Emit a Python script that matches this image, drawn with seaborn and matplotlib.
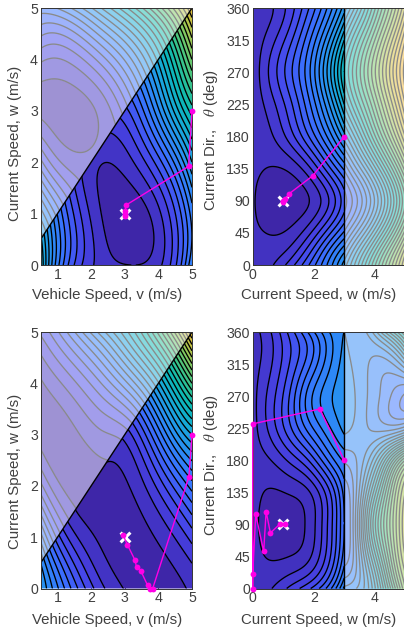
import numpy as np
import matplotlib
matplotlib.use("Agg")
import matplotlib.pyplot as plt
from matplotlib.colors import LinearSegmentedColormap
from matplotlib.patches import Polygon
import seaborn as sns

# grid knots for the surfaces, values are in contour-line counts
v_knots = [0.5, 1.4, 2.3, 3.2, 4.1, 5.0]
w_knots = [0, 1, 2, 3, 4, 5]
w_left_knots = [0, 0.6, 1.2, 1.8, 2.4, 3.0]
w_right_knots = [3.0, 3.4, 3.8, 4.2, 4.6, 5.0]
theta_knots = [0, 45, 90, 135, 180, 225, 270, 315, 360]

# rows go from w=0 up to w=5
top_vw_below = [[13, 4.5, 1.6, 1.0, 2.0, 8],
                [11, 4.4, 1.0, 0.3, 2.1, 7.5],
                [8, 3, 1.05, 1.85, 5, 11],
                [6, 4, 3, 4.3, 9.5, 15.5],
                [6, 5, 6, 8, 13, 20],
                [7, 8, 10, 14, 19, 25]]
top_vw_above = [[13, 4.5, 1.6, 1.0, 2.0, 8],
                [9.5, 4.4, 1.0, 0.3, 2.1, 7.5],
                [4.3, 1.5, 1.3, 1.85, 5, 11],
                [0.75, 0.45, 1.3, 4.3, 9.5, 15.5],
                [2.2, 2.3, 4.5, 8, 13, 20],
                [6.5, 8, 11, 14.5, 19, 25]]
bot_vw_below = [[11, 6, 2.3, 0.75, 0.5, 1.2],
                [8, 2.6, 0.8, 0.5, 1.3, 3.4],
                [4, 1.0, 0.7, 1.1, 3.7, 7.5],
                [3, 3, 1.8, 3, 8, 13],
                [3, 3, 4.5, 8, 13.5, 20],
                [4, 6, 10, 14, 20, 28]]
bot_vw_above = [[13, 6, 2.3, 0.75, 0.5, 1.2],
                [8.5, 2.8, 0.8, 0.5, 1.3, 3.4],
                [3.3, 0.55, 0.5, 1.1, 3.7, 7.5],
                [0.55, 0.65, 1.8, 3, 8, 13],
                [0.85, 2.6, 5, 8.5, 13.5, 20],
                [3.2, 6.5, 10.5, 14.5, 20, 28]]

# rows go from theta=0 up to theta=360
top_wt_near = [[1.2, 1.85, 3.4, 5.8, 8.8, 12.5],
               [1.15, 0.95, 1.2, 2.6, 5.2, 8.2],
               [1.1, 0.55, 0.45, 0.9, 2.6, 5.6],
               [1.15, 0.95, 1.2, 2.6, 5.2, 8.2],
               [1.2, 1.85, 3.4, 5.8, 8.8, 12.5],
               [1.25, 2.6, 4.6, 7.5, 11.2, 16],
               [1.3, 3.3, 5.6, 8.5, 12.7, 18],
               [1.25, 2.6, 4.6, 7.5, 11.2, 16],
               [1.2, 1.85, 3.4, 5.8, 8.8, 12.5]]
top_wt_far = [[12.5, 15.5, 19, 22.6, 26.2, 30],
              [8.2, 11, 14, 17.5, 21.3, 25.5],
              [5.6, 7.8, 10.5, 13.8, 17.7, 22],
              [8.2, 11, 14, 17.5, 21.3, 25.5],
              [12.5, 15.5, 19, 22.6, 26.2, 30],
              [16, 19.2, 22.3, 25.7, 29.2, 33],
              [18, 21, 24.2, 27.5, 31, 34.5],
              [16, 19.2, 22.3, 25.7, 29.2, 33],
              [12.5, 15.5, 19, 22.6, 26.2, 30]]
bot_wt_near = [[1.6, 1.95, 3.2, 4.7, 7, 11.3],
               [1.5, 0.9, 1.0, 1.7, 4.1, 8.5],
               [1.4, 0.5, 0.45, 1.2, 3.7, 8],
               [1.5, 0.9, 1.1, 1.8, 4.2, 8.4],
               [1.6, 2, 3.2, 4.9, 7.7, 10.2],
               [1.6, 3.4, 5.7, 8.3, 10.5, 12.3],
               [1.6, 3.5, 6, 9.3, 11.5, 12.7],
               [1.6, 2.9, 5, 7.5, 10.3, 12.4],
               [1.6, 3, 5.3, 8, 10.6, 12]]
bot_wt_far = [[11.3, 12, 14, 18, 23, 28],
              [8.5, 11, 16, 21, 26, 30],
              [8, 11.5, 18, 23, 27, 31],
              [8.4, 11, 16, 21, 26, 30],
              [10.2, 11, 13, 16.5, 21, 25],
              [12.3, 11.7, 11, 10.6, 10.6, 11.5],
              [12.7, 11.9, 10.9, 9.9, 8.8, 7.8],
              [12.4, 11.7, 11, 10.5, 11, 13],
              [12, 11.6, 12.3, 15, 18, 21]]

# optimiser paths
top_vw_path_v = [5.0, 4.9, 3.05, 3.0, 3.0, 3.0]
top_vw_path_w = [3.0, 1.92, 1.17, 1.05, 1.0, 0.95]
bot_vw_path_v = [5.0, 4.91, 3.83, 3.75, 3.68, 3.48, 3.35, 3.3, 3.08, 2.95]
bot_vw_path_w = [3.0, 2.18, 0.0, 0.0, 0.06, 0.34, 0.42, 0.56, 0.85, 1.04]
top_wt_path_w = [3.0, 1.97, 1.2, 1.05, 1.0, 0.98]
top_wt_path_t = [180, 125, 100, 92, 90, 88]
bot_wt_path_w = [3.0, 2.2, 0.0, 0.0, 0.0, 0.1, 0.36, 0.44, 0.58, 0.88, 1.07]
bot_wt_path_t = [180, 252, 231, 0, 20, 104, 52, 108, 78, 90, 90]

true_v, true_w, true_theta = 3.0, 1.0, 90

parula = LinearSegmentedColormap.from_list("parula", [
    (0.00, "#3e26a8"), (0.10, "#4744e8"), (0.20, "#3a6ffe"), (0.30, "#2b8cf5"),
    (0.40, "#16a8d8"), (0.50, "#0ab9b4"), (0.60, "#3fc484"), (0.70, "#8ec95a"),
    (0.80, "#d4bf3a"), (0.90, "#fbb93a"), (1.00, "#f9fb15")])

sns.set_theme(style="ticks")
plt.rcParams["font.family"] = ["Liberation Sans", "DejaVu Sans"]
plt.rcParams["mathtext.fontset"] = "stix"
TEXT = "#404040"
W, H = 404, 630


def spline_matrix(knots, fine):
    # not-a-knot cubic spline written as a matrix from knot values to fine values
    t = np.array(knots, dtype=float)
    h = np.diff(t)
    n = len(t)
    A, B = np.zeros((n, n)), np.zeros((n, n))
    A[0, :3] = h[1], -(h[0] + h[1]), h[0]
    A[-1, -3:] = h[-1], -(h[-2] + h[-1]), h[-2]
    for i in range(1, n - 1):
        A[i, i - 1:i + 2] = h[i - 1], 2 * (h[i - 1] + h[i]), h[i]
        B[i, i - 1:i + 2] = 6 / h[i - 1], -6 / h[i - 1] - 6 / h[i], 6 / h[i]
    M = np.linalg.solve(A, B)
    idx = np.clip(np.searchsorted(t, fine, side="right") - 1, 0, n - 2)
    a = (t[idx + 1] - fine) / h[idx]
    b = (fine - t[idx]) / h[idx]
    out = np.zeros((len(fine), n))
    out[np.arange(len(fine)), idx] += a
    out[np.arange(len(fine)), idx + 1] += b
    out += ((a ** 3 - a) * h[idx] ** 2 / 6)[:, None] * M[idx]
    out += ((b ** 3 - b) * h[idx] ** 2 / 6)[:, None] * M[idx + 1]
    return out


def smooth(x, y, rows):
    fx = np.linspace(x[0], x[-1], 300)
    fy = np.linspace(y[0], y[-1], 300)
    z = spline_matrix(y, fy) @ np.array(rows, dtype=float) @ spline_matrix(x, fx).T
    return fx, fy, z


def draw_region(ax, x, y, rows, region, vmax, faded):
    fx, fy, z = smooth(x, y, rows)
    lines = np.arange(1, 60)
    fill = ax.contourf(fx, fy, z, levels=np.r_[-5, lines], cmap=parula, vmin=0, vmax=vmax)
    patch = Polygon(region, closed=True, transform=ax.transData, fc="none", ec="none")
    ax.add_patch(patch)
    fill.set_clip_path(patch)
    if faded:
        ax.add_patch(Polygon(region, closed=True, fc="white", ec="none", alpha=0.5, zorder=2))
    colour = "#8a8a8a" if faded else "black"
    cs = ax.contour(fx, fy, z, levels=lines, colors=colour, linewidths=0.95, zorder=3)
    cs.set_clip_path(patch)


def finish(ax, box, xticks, yticks, xlabel, ylabel, xlab_at, ylab_at):
    left, right, top, bottom = box
    ax.set_xticks(xticks)
    ax.set_yticks(yticks)
    ax.set_xlabel(xlabel, fontsize=10.8, color=TEXT, va="center")
    ax.set_ylabel(ylabel, fontsize=10.8, color=TEXT, va="center")
    ax.xaxis.set_label_coords((xlab_at[0] - left) / (right - left), (bottom - xlab_at[1]) / (bottom - top))
    ax.yaxis.set_label_coords((ylab_at[0] - left) / (right - left), (bottom - ylab_at[1]) / (bottom - top))
    ax.tick_params(direction="in", length=2.5, width=0.6, top=True, right=True,
                   labelsize=10.2, labelcolor=TEXT, color="#333333", pad=2)
    for s in ax.spines.values():
        s.set_visible(True)
        s.set_color("#333333")
        s.set_linewidth(0.7)
        s.set_zorder(6)


def draw_path(ax, x, y, tx, ty):
    sns.scatterplot(x=[tx], y=[ty], marker="x", color="white", s=50, linewidth=2.2,
                    ax=ax, zorder=7, clip_on=False, legend=False)
    sns.lineplot(x=x, y=y, sort=False, estimator=None, color="#ff00e6", lw=1.0, marker="o",
                 markersize=4.2, markeredgewidth=0, ax=ax, zorder=8, clip_on=False, legend=False)


fig = plt.figure(figsize=(W / 100, H / 100), dpi=100, facecolor="white")


def make_axes(left, right, top, bottom):
    return fig.add_axes([left / W, 1 - bottom / H, (right - left) / W, (bottom - top) / H])


panels = [
    ((40.7, 192, 8, 265), top_vw_below, top_vw_above, 30, top_vw_path_v, top_vw_path_w, 295, 143),
    ((40.7, 192, 332, 588.5), bot_vw_below, bot_vw_above, 33, bot_vw_path_v, bot_vw_path_w, 620, 471),
]
for box, below, above, vmax, px, py, xlab_y, ylab_y in panels:
    ax = make_axes(*box)
    draw_region(ax, v_knots, w_knots, below, [(0.5, 0), (5, 0), (5, 5), (0.5, 0.5)], vmax, False)
    draw_region(ax, v_knots, w_knots, above, [(0.5, 0.5), (5, 5), (0.5, 5)], vmax, True)
    ax.plot([0.5, 5], [0.5, 5], color="black", lw=1.0, zorder=5)
    ax.set_xlim(0.5, 5)
    ax.set_ylim(0, 5)
    finish(ax, box, [1, 2, 3, 4, 5], [0, 1, 2, 3, 4, 5],
           "Vehicle Speed, v (m/s)", "Current Speed, w (m/s)", (107.5, xlab_y), (15, ylab_y))
    draw_path(ax, px, py, true_v, true_w)

panels = [
    ((252.7, 405.2, 8, 265), top_wt_near, top_wt_far, 38, top_wt_path_w, top_wt_path_t, 295, 140),
    ((252.7, 405.2, 332, 588.5), bot_wt_near, bot_wt_far, 40, bot_wt_path_w, bot_wt_path_t, 620, 465),
]
for box, near, far, vmax, px, py, xlab_y, ylab_y in panels:
    ax = make_axes(*box)
    draw_region(ax, w_left_knots, theta_knots, near, [(0, 0), (3, 0), (3, 360), (0, 360)], vmax, False)
    draw_region(ax, w_right_knots, theta_knots, far, [(3, 0), (5, 0), (5, 360), (3, 360)], vmax, True)
    ax.axvline(3, color="black", lw=1.0, zorder=5)
    ax.set_xlim(0, 5)
    ax.set_ylim(0, 360)
    finish(ax, box, [0, 2, 4], list(range(0, 361, 45)),
           "Current Speed, w (m/s)", r"Current Dir.,   $\theta$ (deg)", (319, xlab_y), (211, ylab_y))
    draw_path(ax, px, py, true_w, true_theta)

fig.savefig("out.png", dpi=100)
